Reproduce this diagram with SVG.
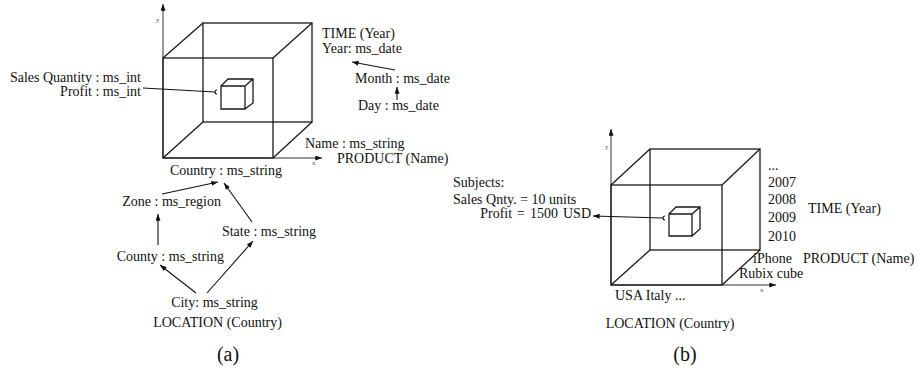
<svg xmlns="http://www.w3.org/2000/svg" width="917" height="376" viewBox="0 0 917 376">
<style>
text{font-family:"Liberation Serif","Times New Roman",serif;font-size:14px;fill:#111}
.ax{font-size:7px;fill:#555}
.cap{font-size:20px}
.e{stroke:#1a1a1a;stroke-width:1.3;fill:none}
.c{stroke:#111;stroke-width:1.1;fill:none}
.axl{stroke:#333;stroke-width:1;fill:none}
</style>
<defs>
<marker id="ah" viewBox="0 0 8 6" refX="8" refY="3" markerWidth="7" markerHeight="5" markerUnits="userSpaceOnUse" orient="auto">
<path d="M0,0 L8,3 L0,6 Z" fill="#111"/>
</marker>
</defs>
<rect width="917" height="376" fill="#fff"/>

<!-- Cube (a) -->
<g id="cubeA">
<path class="axl" d="M163,158 V4" marker-end="url(#ah)"/>
<path class="axl" d="M163,158 H322" marker-end="url(#ah)"/>
<text class="ax" x="156" y="22">y</text>
<text class="ax" x="312" y="165">x</text>
<rect class="e" x="203" y="23" width="109" height="99"/>
<rect class="e" x="163" y="58" width="110" height="100"/>
<path class="e" d="M163,58 L203,23 M273,58 L312,23 M273,158 L312,122 M163,158 L203,122"/>
<path class="e" d="M221,86 H245 V109 H221 Z M221,86 L228,79 H253 V103 L245,109 M245,86 L253,79"/>
</g>

<!-- Cube (b) -->
<g id="cubeB">
<path class="axl" d="M611,285 V129" marker-end="url(#ah)"/>
<path class="axl" d="M611,285 H776" marker-end="url(#ah)"/>
<text class="ax" x="605" y="149">y</text>
<text class="ax" x="760" y="292">x</text>
<rect class="e" x="650" y="149" width="110" height="101"/>
<rect class="e" x="611" y="185" width="111" height="100"/>
<path class="e" d="M611,185 L650,149 M722,185 L760,149 M722,285 L760,250 M611,285 L650,250"/>
<path class="e" d="M669,214 H692 V236 H669 Z M669,214 L676,207 H700 V229 L692,236 M692,214 L700,207"/>
</g>

<!-- Nodes (a) -->
<g id="measuresA">
<text x="141" y="82" text-anchor="end">Sales Quantity : ms_int</text>
<text x="141" y="96" text-anchor="end">Profit : ms_int</text>
</g>
<g id="country"><text x="226" y="175" text-anchor="middle">Country : ms_string</text></g>
<g id="zone"><text x="221" y="206" text-anchor="end">Zone : ms_region</text></g>
<g id="state"><text x="269" y="236" text-anchor="middle">State : ms_string</text></g>
<g id="county"><text x="224" y="261" text-anchor="end">County : ms_string</text></g>
<g id="city"><text x="214.5" y="307" text-anchor="middle">City: ms_string</text></g>
<g id="locationA"><text x="217.5" y="327" text-anchor="middle">LOCATION (Country)</text></g>
<g id="timeA"><text x="322" y="38">TIME (Year)</text></g>
<g id="year"><text x="322" y="53">Year: ms_date</text></g>
<g id="month"><text x="355" y="83">Month : ms_date</text></g>
<g id="day"><text x="358" y="110">Day : ms_date</text></g>
<g id="name"><text x="305" y="148">Name : ms_string</text></g>
<g id="productA"><text x="337" y="163">PRODUCT (Name)</text></g>
<g id="capA"><text class="cap" x="228" y="361" text-anchor="middle">(a)</text></g>

<!-- Nodes (b) -->
<g id="measuresB">
<text x="453" y="187">Subjects:</text>
<text x="453" y="204">Sales Qnty. = 10 units</text>
<text x="591" y="218" text-anchor="end" word-spacing="1.5">Profit = 1500 USD</text>
</g>
<g id="years">
<text x="768" y="170">...</text>
<text x="768" y="187">2007</text>
<text x="768" y="204">2008</text>
<text x="768" y="222">2009</text>
<text x="768" y="241">2010</text>
</g>
<g id="timeB"><text x="808" y="213">TIME (Year)</text></g>
<g id="products">
<text x="753" y="263">iPhone</text>
<text x="739" y="278">Rubix cube</text>
</g>
<g id="productB"><text x="803" y="263">PRODUCT (Name)</text></g>
<g id="countries"><text x="615" y="300">USA  Italy ...</text></g>
<g id="locationB"><text x="670" y="328" text-anchor="middle">LOCATION (Country)</text></g>
<g id="capB"><text class="cap" x="685" y="361" text-anchor="middle">(b)</text></g>

<!-- Connectors -->
<g id="connectors">
<path class="c" d="M143,88 L215,92"/>
<path class="c" d="M217,90 A2 2 0 0 0 217,94"/>
<path class="c" d="M663,218 L593,216" marker-end="url(#ah)"/>
<path class="c" d="M665,216 A2 2 0 0 0 665,220"/>
<path class="c" d="M162,194 L218,182" marker-end="url(#ah)"/>
<path class="c" d="M252,222 L224,183" marker-end="url(#ah)"/>
<path class="c" d="M158,245 L158,214" marker-end="url(#ah)"/>
<path class="c" d="M196,293 L160,265" marker-end="url(#ah)"/>
<path class="c" d="M207,293 L253,241" marker-end="url(#ah)"/>
<path class="c" d="M395,70 L352,62" marker-end="url(#ah)"/>
<path class="c" d="M397,100 L397,87" marker-end="url(#ah)"/>
</g>
</svg>
